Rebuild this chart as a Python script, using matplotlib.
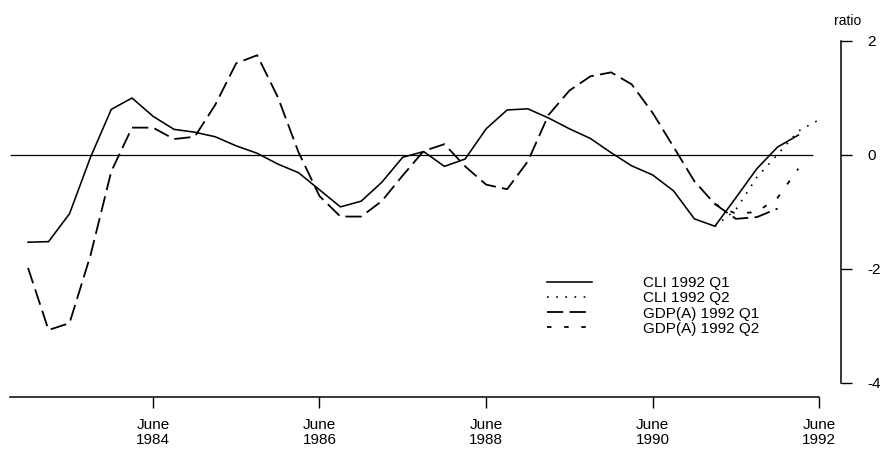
import matplotlib
matplotlib.use("Agg")
import matplotlib.pyplot as plt
import matplotlib.dates as mdates
import numpy as np
import pandas as pd

plt.rcParams['font.family'] = ['Liberation Sans', 'DejaVu Sans']

# quarterly observations, Dec 1982 onwards (plotted mid last month of quarter)
quarters = pd.date_range('1982-12-01', periods=39, freq='3MS') + pd.Timedelta(days=14)

cli_q1 = [-1.53, -1.52, -1.03, -0.04, 0.80, 1.00, 0.68, 0.45, 0.40, 0.32,
          0.16, 0.03, -0.16, -0.31, -0.61, -0.91, -0.81, -0.48, -0.04, 0.06,
          -0.20, -0.07, 0.46, 0.79, 0.81, 0.65, 0.46, 0.29, 0.04, -0.19,
          -0.35, -0.63, -1.12, -1.25, -0.75, -0.24, 0.14, 0.35]
cli_q2 = [-1.25, -0.96, -0.39, 0.01, 0.42, 0.62]          # from Mar 1991
gdp_q1 = [-1.98, -3.07, -2.95, -1.76, -0.29, 0.48, 0.48, 0.28, 0.32, 0.88,
          1.61, 1.75, 1.01, 0.05, -0.72, -1.08, -1.08, -0.81, -0.36, 0.07,
          0.19, -0.20, -0.52, -0.60, -0.11, 0.70, 1.13, 1.38, 1.45, 1.24,
          0.74, 0.14, -0.46, -0.86, -1.12, -1.09, -0.94]
gdp_q2 = [-0.86, -1.03, -1.00, -0.75, -0.24]              # from Mar 1991

tick_years = [1984, 1986, 1988, 1990, 1992]
y_ticks = [-4, -2, 0, 2]

fig = plt.figure(figsize=(8.84, 4.57), dpi=100)
ax = fig.add_axes([10 / 884, 60 / 457, 831 / 884, 397 / 457])

ax.plot(quarters[:len(cli_q1)], cli_q1, color='black', lw=1.15, label='CLI 1992 Q1')
ax.plot(quarters[33:33 + len(cli_q2)], cli_q2, color='black', lw=1.2,
        dashes=(1, 4.5), label='CLI 1992 Q2')
ax.plot(quarters[:len(gdp_q1)], gdp_q1, color='black', lw=1.3,
        dashes=(9, 3.5), label='GDP(A) 1992 Q1')
ax.plot(quarters[33:33 + len(gdp_q2)], gdp_q2, color='black', lw=1.3,
        dashes=(2.5, 7), label='GDP(A) 1992 Q2')

# zero reference line
june84 = pd.Timestamp('1984-06-15')
x_left = june84 - pd.Timedelta(days=627)
x_right = june84 + pd.Timedelta(days=3017)
ax.hlines(0, x_left, pd.Timestamp('1992-05-20'), color='black', lw=0.9)

ax.set_xlim(x_left, x_right)
ax.set_ylim(-242 / 57, 155 / 57)

# x axis
xt = [pd.Timestamp(f'{y}-06-15') for y in tick_years]
ax.set_xticks(xt)
ax.set_xticklabels([f'June\n{y}' for y in tick_years], fontsize=11, linespacing=1.15)
ax.tick_params(axis='x', direction='out', length=8, width=1, pad=7)
ax.spines['bottom'].set_bounds(mdates.date2num(x_left), mdates.date2num(xt[-1]))

# y axis on the right
ax.yaxis.tick_right()
ax.set_yticks(y_ticks)
ax.set_yticklabels([str(v) for v in y_ticks], fontsize=11)
ax.tick_params(axis='y', direction='out', length=8, width=1, pad=11)
ax.spines['right'].set_bounds(-4, 2)
ax.spines['top'].set_visible(False)
ax.spines['left'].set_visible(False)
for s in ['bottom', 'right']:
    ax.spines[s].set_linewidth(1.1)

fig.text(848 / 884, 1 - 21 / 457, 'ratio', ha='center', va='center', fontsize=10)

ax.legend(loc='center left', bbox_to_anchor=(539 / 884, 1 - 306 / 457),
          bbox_transform=fig.transFigure, frameon=False, fontsize=11,
          handlelength=3.0, handletextpad=3.3, labelspacing=0.08, borderpad=0)

fig.savefig('out.png', dpi=100)
